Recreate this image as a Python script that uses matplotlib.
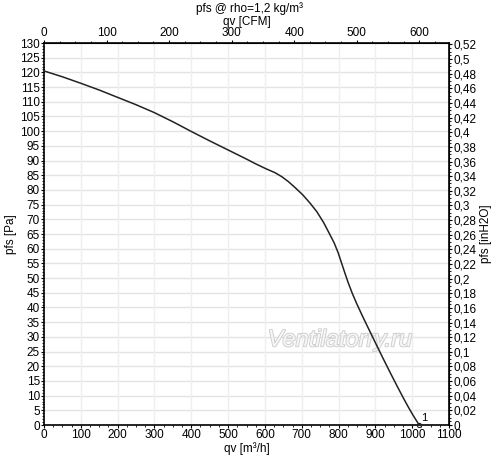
import matplotlib

matplotlib.use("Agg")
import matplotlib.pyplot as plt
import matplotlib.patheffects as pe
from matplotlib.ticker import MultipleLocator, FuncFormatter

plt.rcParams["font.family"] = ["Liberation Sans", "DejaVu Sans"]
plt.rcParams["font.size"] = 8.5

# fan curve: qv [m3/h] vs pfs [Pa]
qv = [0, 50, 100, 150, 200, 250, 300, 350, 400, 450, 500, 550, 573, 603,
      627, 646, 664, 682, 703, 722, 741, 759, 772, 788, 799, 808, 817, 826,
      837, 849, 863, 876, 890, 902, 920, 940, 958, 976, 990, 1003, 1019]
pfs = [120.5, 118.5, 116.3, 114.0, 111.5, 109.0, 106.3, 103.2, 99.9, 96.7,
       93.6, 90.5, 89.0, 87.2, 85.9, 84.5, 82.8, 80.8, 78.3, 75.6, 72.6, 69.0,
       65.9, 62.0, 58.6, 55.2, 51.8, 48.5, 44.9, 41.4, 37.6, 34.2, 30.6, 27.5,
       22.9, 17.9, 13.5, 9.2, 6.0, 3.2, 0.0]

M3H_PER_CFM = 1.699
PA_PER_INH2O = 249.089
X_MAX, Y_MAX = 1100, 130


def comma(v, _pos):
    s = f"{v:.2f}".rstrip("0").rstrip(".")
    return s.replace(".", ",")


def style_ticks(a):
    a.tick_params(which="major", direction="out", length=2.5, width=0.8, pad=0.5)
    a.tick_params(which="minor", direction="out", length=1.5, width=0.6)


fig = plt.figure(figsize=(5.0, 4.65), dpi=100)
ax = fig.add_axes([0.088, 0.086, 0.81, 0.8215])

ax.set_xlim(0, X_MAX)
ax.set_ylim(0, Y_MAX)
ax.xaxis.set_major_locator(MultipleLocator(100))
ax.xaxis.set_minor_locator(MultipleLocator(25))
ax.yaxis.set_major_locator(MultipleLocator(5))
ax.yaxis.set_minor_locator(MultipleLocator(1))

for y in range(5, Y_MAX, 5):
    ax.axhline(y, color="#e3e3e3", lw=1.0, zorder=0)
for x in range(100, X_MAX, 100):
    ax.axvline(x, color="#efefef", lw=1.0, zorder=0)

ax.text(804, 29, "Ventilatorry.ru", fontsize=17, style="italic",
        color="#f6f6f6", ha="center", va="center", zorder=1,
        path_effects=[pe.withStroke(linewidth=1.3, foreground="#cdcdcd")])

ax.plot(qv, pfs, color="#222222", lw=1.1, zorder=3, solid_joinstyle="round")
ax.plot(qv[-1], pfs[-1], "o", ms=3, mfc="none", mec="#222222", mew=0.8,
        zorder=3, clip_on=False)
ax.text(qv[-1] + 4, pfs[-1] + 1.5, "1", fontsize=8, zorder=4)

for s in ax.spines.values():
    s.set_linewidth(1.2)
style_ticks(ax)

ax.set_xlabel("qv [m³/h]", labelpad=1)
ax.set_ylabel("pfs [Pa]", labelpad=2)

top = ax.secondary_xaxis("top", functions=(lambda x: x / M3H_PER_CFM,
                                           lambda c: c * M3H_PER_CFM))
top.xaxis.set_major_locator(MultipleLocator(100))
top.xaxis.set_minor_locator(MultipleLocator(25))
style_ticks(top)
top.set_xlabel("qv [CFM]", labelpad=1)

right = ax.secondary_yaxis("right", functions=(lambda p: p / PA_PER_INH2O,
                                               lambda w: w * PA_PER_INH2O))
right.yaxis.set_major_locator(MultipleLocator(0.02))
right.yaxis.set_minor_locator(MultipleLocator(0.005))
right.yaxis.set_major_formatter(FuncFormatter(comma))
style_ticks(right)
right.set_ylabel("pfs [inH2O]", labelpad=3)

fig.text(0.5, 0.995, "pfs @ rho=1,2 kg/m³", ha="center", va="top", fontsize=8.5)

fig.savefig("out.png", dpi=100)
